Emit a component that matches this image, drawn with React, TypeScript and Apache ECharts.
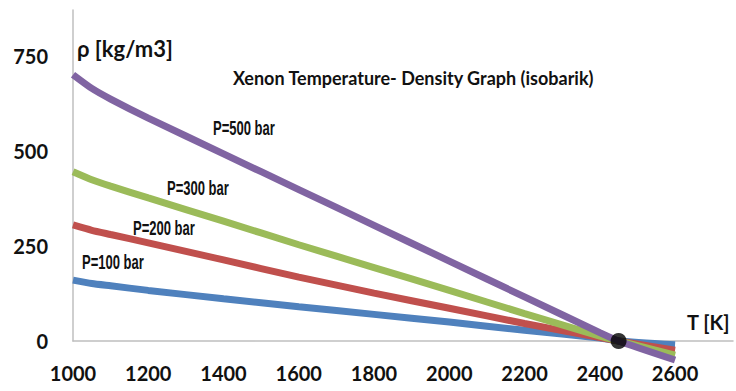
import React, { useEffect, useRef } from "react";
import * as echarts from "echarts";

const temps = [1000, 1050, 1100, 1200, 1400, 1600, 1800, 2000, 2200, 2400, 2450, 2600];
const p100 = [160, 151, 145, 133, 111, 90, 70, 50, 28, 8, 0, -10];
const p200 = [305, 291, 280, 258, 213, 168, 126, 86, 46, 9, 0, -24];
const p300 = [445, 424, 407, 376, 315, 253, 193, 133, 72, 13, 0, -37];
const p500 = [700, 664, 636, 586, 492, 398, 304, 210, 116, 22, 0, -50];
const seriesNames = ["P=100 bar", "P=200 bar", "P=300 bar", "P=500 bar"];
const seriesColors = ["#4F81BD", "#C0504D", "#9BBB59", "#8064A2"];
const crossPoint = [2450, 0];
const title = "Xenon Temperature- Density Graph (isobarik)";

const FONT = 'Lato, "Open Sans", sans-serif';
const ARIAL = '"Liberation Sans", Arial, sans-serif';

export default function App() {
  const ref = useRef<HTMLDivElement>(null);
  useEffect(() => {
    document.body.style.margin = "0";
    const chart = echarts.init(ref.current!, null, { renderer: "svg" });
    const all = [p100, p200, p300, p500];
    const labelPos = [
      [82, 262],
      [133, 228],
      [167, 188],
      [213, 128],
    ];
    chart.setOption({
      animation: false,
      backgroundColor: "#ffffff",
      grid: { left: 73, right: 0, top: 10, bottom: 50 },
      xAxis: {
        type: "value",
        min: 1000,
        max: 2754,
        interval: 200,
        splitLine: { show: false },
        axisTick: { show: false },
        axisLine: { lineStyle: { color: "#BFBFBF", width: 1.5 } },
        axisLabel: {
          margin: 22,
          color: "#111",
          fontFamily: FONT,
          fontWeight: "bold",
          fontSize: 20,
          formatter: (v: number) => (v % 200 === 0 && v <= 2600 ? String(v) : ""),
        },
      },
      yAxis: {
        type: "value",
        min: 0,
        max: 870,
        interval: 250,
        splitLine: { show: false },
        axisTick: { show: false },
        axisLine: { show: true, lineStyle: { color: "#BFBFBF", width: 1.5 } },
        axisLabel: {
          margin: 25,
          color: "#111",
          fontFamily: FONT,
          fontWeight: "bold",
          fontSize: 20,
          formatter: (v: number) => (v % 250 === 0 ? String(v) : ""),
        },
      },
      series: [
        ...all.map((d, i) => ({
          type: "line",
          name: seriesNames[i],
          data: temps.map((t, j) => [t, d[j]]),
          showSymbol: false,
          clip: false,
          smooth: 0.2,
          z: 2 + i,
          lineStyle: { color: seriesColors[i], width: 7, cap: "butt" },
        })),
        {
          type: "scatter",
          data: [crossPoint],
          symbolSize: 16,
          z: 10,
          itemStyle: { color: "#000" },
        },
      ],
      graphic: [
        {
          type: "text",
          x: 233,
          y: 78,
          style: {
            text: title,
            font: `bold 18px ${FONT}`,
            fill: "#111",
            verticalAlign: "middle",
          },
        },
        {
          type: "text",
          x: 77,
          y: 48,
          style: { text: "ρ [kg/m3]", font: `bold 22px ${FONT}`, fill: "#111", verticalAlign: "middle" },
        },
        {
          type: "text",
          x: 687,
          y: 322,
          style: { text: "T [K]", font: `bold 20px ${FONT}`, fill: "#111", verticalAlign: "middle" },
        },
        ...seriesNames.map((n, i) => ({
          type: "text",
          x: labelPos[i][0],
          y: labelPos[i][1],
          scaleX: 0.62,
          style: { text: n, font: `bold 21px ${ARIAL}`, fill: "#111", verticalAlign: "middle" },
        })),
      ],
    });
    return () => chart.dispose();
  }, []);
  return <div ref={ref} style={{ width: 736, height: 391 }} />;
}
